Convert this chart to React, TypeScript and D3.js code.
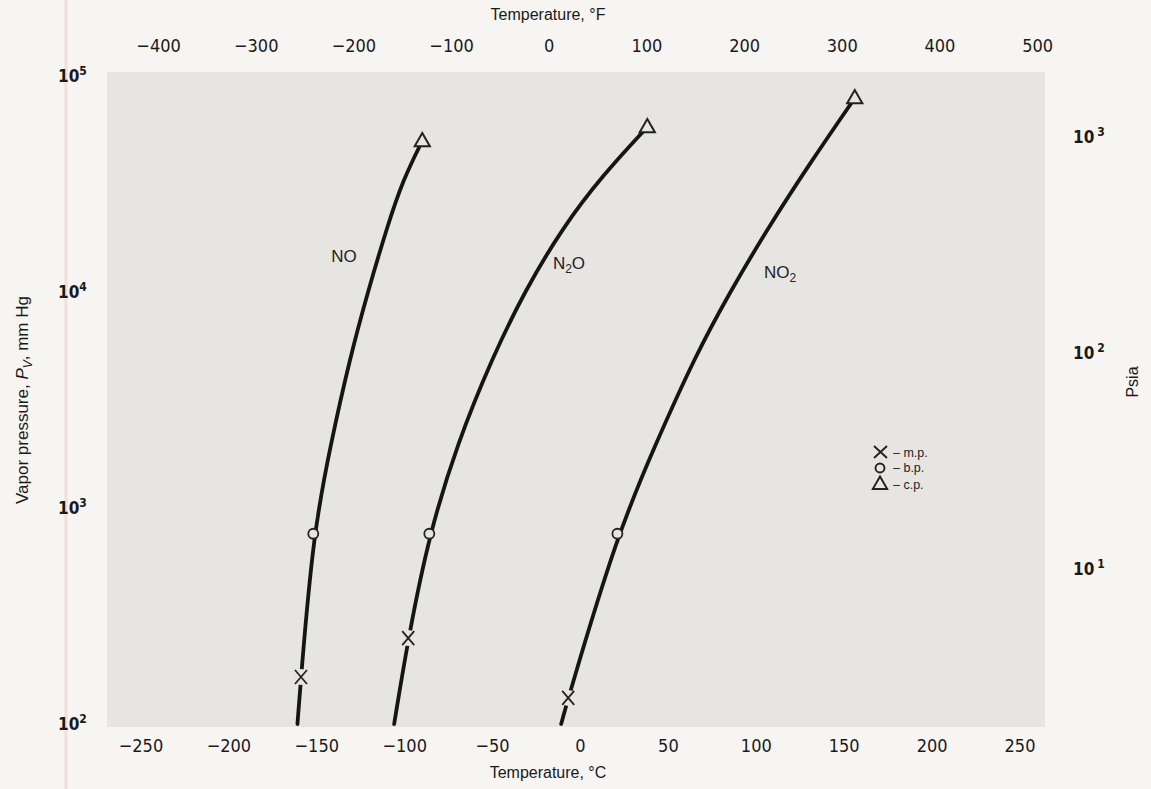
import React from "react";
import * as d3 from "d3";

// Temperature ticks
const celsiusTicks = [-250, -200, -150, -100, -50, 0, 50, 100, 150, 200, 250];
const fahrenheitTicks = [-400, -300, -200, -100, 0, 100, 200, 300, 400, 500];
const mmHgTicks = [1e2, 1e3, 1e4, 1e5];
const psiaTicks = [10, 100, 1000];

// Vapor-pressure curves: [temperature °C, pressure mm Hg]
const noCurve: [number, number][] = [
  [-161, 100], [-159, 165], [-152, 760], [-142, 2000], [-131, 5000],
  [-121, 10000], [-110, 20000], [-101, 33000], [-90, 50000],
];
const n2oCurve: [number, number][] = [
  [-106, 100], [-98, 250], [-86, 760], [-70, 2000], [-50, 5000],
  [-32, 10000], [-10, 20000], [13, 35000], [38, 58000],
];
const no2Curve: [number, number][] = [
  [-11, 100], [-7, 132], [21, 760], [43, 2000], [65, 5000],
  [85, 10000], [107, 20000], [131, 40000], [156, 79000],
];

// Special points
const meltingPoints: [number, number][] = [[-159, 165], [-98, 250], [-7, 132]];
const boilingPoints: [number, number][] = [[-152, 760], [-86, 760], [21, 760]];
const criticalPoints: [number, number][] = [[-90, 50000], [38, 58000], [156, 79000]];

const MMHG_PER_PSI = 51.715;

const FONT = "'Liberation Sans Narrow', 'DejaVu Sans Condensed', 'Arial Narrow', sans-serif";
const SANS = "'Liberation Sans', Arial, sans-serif";
const BG = "#f6f5f2";
const PLOT_BG = "#e7e5e1";

export default function App() {
  const W = 1151, H = 789;
  const plot = { left: 107, right: 1045, top: 72, bottom: 727 };

  const x = d3.scaleLinear().domain([-250, 250]).range([141, 1020]);
  const xF = d3.scaleLinear()
    .domain([-400, 500])
    .range([x((-400 - 32) * 5 / 9), x((500 - 32) * 5 / 9)]);
  const y = d3.scaleLog().domain([1e2, 1e5]).range([724, 76]);
  const yPsia = d3.scaleLog()
    .domain([1e2 / MMHG_PER_PSI, 1e5 / MMHG_PER_PSI])
    .range([724, 76]);

  const line = d3.line<[number, number]>()
    .x(d => x(d[0]))
    .y(d => y(d[1]))
    .curve(d3.curveBasis);

  const curves = [noCurve, n2oCurve, no2Curve];
  const minus = (v: number) => (v < 0 ? "\u2212" + Math.abs(v) : String(v));

  const triPath = (cx: number, cy: number, s: number) =>
    `M${cx},${cy - s}L${cx + s * 0.95},${cy + s * 0.65}L${cx - s * 0.95},${cy + s * 0.65}Z`;

  return (
    <svg width={W} height={H} style={{ position: "absolute", left: 0, top: 0, background: BG }}
      fontFamily={FONT}>
      <rect x={0} y={0} width={W} height={H} fill={BG} />
      <line x1={66} x2={66} y1={0} y2={H} stroke="#f1dfd6" strokeWidth={3} />
      <rect x={plot.left} y={plot.top} width={plot.right - plot.left}
        height={plot.bottom - plot.top} fill={PLOT_BG} />

      {/* curves */}
      {curves.map((c, i) => (
        <path key={i} d={line(c) || ""} fill="none" stroke="#151515" strokeWidth={3.8}
          strokeLinecap="round" />
      ))}

      {/* melting points */}
      {meltingPoints.map(([t, p], i) => {
        const cx = x(t), cy = y(p);
        return (
          <g key={"m" + i}>
            <circle cx={cx} cy={cy} r={8} fill={PLOT_BG} />
            <path d={`M${cx - 6},${cy - 7}L${cx + 6},${cy + 7}M${cx + 6},${cy - 7}L${cx - 6},${cy + 7}`}
              stroke="#222" strokeWidth={1.8} fill="none" />
          </g>
        );
      })}
      {/* boiling points */}
      {boilingPoints.map(([t, p], i) => (
        <circle key={"b" + i} cx={x(t)} cy={y(p)} r={5} fill={PLOT_BG} stroke="#222" strokeWidth={1.8} />
      ))}
      {/* critical points */}
      {criticalPoints.map(([t, p], i) => (
        <path key={"c" + i} d={triPath(x(t), y(p), 8)} fill={PLOT_BG} stroke="#222" strokeWidth={2} />
      ))}

      {/* species labels */}
      <text x={344} y={262} fontSize={17} textAnchor="middle" fontFamily={SANS} fill="#222">NO</text>
      <text x={569} y={269} fontSize={17} textAnchor="middle" fontFamily={SANS} fill="#222">
        N<tspan fontSize={12} dy={4}>2</tspan><tspan dy={-4}>O</tspan>
      </text>
      <text x={780} y={278} fontSize={17} textAnchor="middle" fontFamily={SANS} fill="#222">
        NO<tspan fontSize={12} dy={4}>2</tspan>
      </text>

      {/* legend */}
      <g fontFamily={SANS} fontSize={12.5} fill="#222">
        <path d="M874,446L887,458M887,446L874,458" stroke="#222" strokeWidth={1.9} />
        <text x={893} y={457}>– m.p.</text>
        <circle cx={880} cy={468} r={4.5} fill="none" stroke="#222" strokeWidth={1.9} />
        <text x={893} y={472}>– b.p.</text>
        <path d={triPath(880, 484, 7.5)} fill="none" stroke="#222" strokeWidth={2} />
        <text x={893} y={489}>– c.p.</text>
      </g>

      {/* bottom axis (°C) */}
      {celsiusTicks.map(t => (
        <text key={"c" + t} x={x(t)} y={752} fontSize={18} textAnchor="middle" fill="#1a1a1a">{minus(t)}</text>
      ))}
      <text x={548} y={778} fontSize={16} textAnchor="middle" fill="#1a1a1a"
        fontFamily={SANS}>Temperature, °C</text>

      {/* top axis (°F) */}
      {fahrenheitTicks.map(t => (
        <text key={"f" + t} x={xF(t)} y={52} fontSize={18} textAnchor="middle" fill="#1a1a1a">{minus(t)}</text>
      ))}
      <text x={548} y={20} fontSize={16} textAnchor="middle" fill="#1a1a1a"
        fontFamily={SANS}>Temperature, °F</text>

      {/* left axis (mm Hg) */}
      {mmHgTicks.map(t => (
        <text key={"l" + t} x={58} y={y(t) + 6} fontSize={17} fill="#1a1a1a" fontWeight="bold">
          10<tspan fontSize={12} dy={-7}>{Math.round(Math.log10(t))}</tspan>
        </text>
      ))}
      <text transform={`translate(28,400) rotate(-90)`} fontSize={17} textAnchor="middle" fill="#1a1a1a"
        fontFamily={SANS}>
        Vapor pressure, <tspan fontStyle="italic">P</tspan><tspan fontStyle="italic" fontSize={12} dy={4}>V</tspan><tspan dy={-4}>, mm Hg</tspan>
      </text>

      {/* right axis (psia) */}
      {psiaTicks.map(t => (
        <text key={"r" + t} x={1073} y={yPsia(t) + 5} fontSize={17} fill="#1a1a1a" fontWeight="bold">
          10<tspan fontSize={12} dx={3} dy={-7}>{Math.round(Math.log10(t))}</tspan>
        </text>
      ))}
      <text transform={`translate(1138,382) rotate(-90)`} fontSize={16} textAnchor="middle" fill="#1a1a1a"
        fontFamily={SANS}>Psia</text>
    </svg>
  );
}
